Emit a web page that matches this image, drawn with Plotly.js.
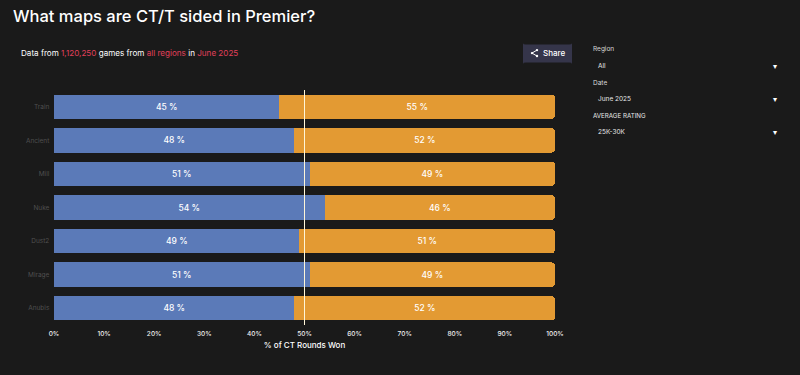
<!DOCTYPE html>
<html>
<head>
<meta charset="utf-8">
<script src="https://cdn.plot.ly/plotly-3.0.1.min.js"></script>
<style>html,body{margin:0;padding:0;background:#1a1a1a;overflow:hidden}</style>
</head>
<body>
<div id="chart" style="width:800px;height:375px"></div>
<script>
const maps = ["Train","Ancient","Mill","Nuke","Dust2","Mirage","Anubis"];
const ctShare = [45, 48, 51, 54, 49, 51, 48];
const tShare = [55, 52, 49, 46, 51, 49, 52];
const tickValues = [0,10,20,30,40,50,60,70,80,90,100];
const tickLabels = ["0%","10%","20%","30%","40%","50%","60%","70%","80%","90%","100%"];
const FONT = "Inter, 'Open Sans', sans-serif";
const label = (text, x, y, size, color, anchor, weight) => ({
  text, x, y, xref:"paper", yref:"paper", xanchor:anchor||"left", yanchor:"middle",
  showarrow:false, font:{family:FONT,size,color,weight:weight||400}, borderpad:0
});
const L=54,R=245,T=89.5,B=50,W=800,H=375;
const px = x => (x-L)/(W-L-R);
const py = y => 1-(y-T)/(H-T-B);
const rounded = (x0,y0,x1,y1,r) => `M${x0+r},${y0} L${x1-r},${y0} Q${x1},${y0} ${x1},${y0+r} L${x1},${y1-r} Q${x1},${y1} ${x1-r},${y1} L${x0+r},${y1} Q${x0},${y1} ${x0},${y1-r} L${x0},${y0+r} Q${x0},${y0} ${x0+r},${y0} Z`;

const traces = [
 {type:"bar",orientation:"h",y:maps,x:ctShare,name:"CT",marker:{color:"#5b7ab8"},
  text:ctShare.map(v=>v+" %"),textposition:"inside",insidetextanchor:"middle",
  textfont:{family:FONT,size:8.5,color:"#ffffff",weight:500},hoverinfo:"skip"},
 {type:"bar",orientation:"h",y:maps,x:tShare,name:"T",marker:{color:"#e39a33"},
  text:tShare.map(v=>v+" %"),textposition:"inside",insidetextanchor:"middle",
  textfont:{family:FONT,size:8.5,color:"#ffffff",weight:500},hoverinfo:"skip"}
];
const layout = {
  width:W,height:H,paper_bgcolor:"#1a1a1a",plot_bgcolor:"#1a1a1a",
  margin:{l:L,r:R,t:T,b:B,pad:0},showlegend:false,barmode:"stack",bargap:0.27,barcornerradius:4,
  font:{family:FONT,color:"#ffffff"},
  xaxis:{range:[0,100],tickvals:tickValues,ticktext:tickLabels,showgrid:false,zeroline:false,showline:false,
    ticks:"",ticklabelstandoff:3,tickfont:{family:FONT,size:6.5,color:"#f0f0f0",weight:500},fixedrange:true,
    title:{text:"% of CT Rounds Won",font:{family:FONT,size:8,color:"#ffffff",weight:500},standoff:5}},
  yaxis:{categoryorder:"array",categoryarray:maps.slice().reverse(),showgrid:false,zeroline:false,showline:false,
    ticks:"",ticksuffix:"  ",tickfont:{family:FONT,size:6.5,color:"#4f4f4f"},fixedrange:true},
  shapes:[
    {type:"line",xref:"x",yref:"paper",x0:50,x1:50,y0:0,y1:1,line:{color:"#fff6d8",width:1}},
    {type:"path",xref:"paper",yref:"paper",path:rounded(px(523),py(44),px(572),py(62),0.006),fillcolor:"#35354a",line:{width:0}},
    {type:"path",xref:"paper",yref:"paper",path:`M${px(537)},${py(49.5)} L${px(532)},${py(52.5)} L${px(537)},${py(55.5)}`,line:{color:"#ffffff",width:1}},
    {type:"circle",xref:"paper",yref:"paper",x0:px(530.8),x1:px(533.2),y0:py(51.3),y1:py(53.7),fillcolor:"#ffffff",line:{width:0}},
    {type:"circle",xref:"paper",yref:"paper",x0:px(535.8),x1:px(538.2),y0:py(48.3),y1:py(50.7),fillcolor:"#ffffff",line:{width:0}},
    {type:"circle",xref:"paper",yref:"paper",x0:px(535.8),x1:px(538.2),y0:py(54.3),y1:py(56.7),fillcolor:"#ffffff",line:{width:0}}
  ],
  annotations:[
    label("What maps are CT/T sided in Premier?",px(12),py(15),16.5,"#ffffff","left",500),
    label('Data from <span style="color:#e0405a">1,120,250</span> games from <span style="color:#e0405a">all regions</span> in <span style="color:#e0405a">June 2025</span>',px(20),py(52.5),8.1,"#ffffff"),
    label("Share",px(553.5),py(52.5),8,"#ffffff","center",500),
    label("Region",px(592),py(48),6.5,"#d8d8d8"),
    label("All",px(597),py(65),6.5,"#e8e8e8"),
    label("▾",px(775),py(65),8,"#ffffff","center"),
    label("Date",px(592),py(82),6.5,"#d8d8d8"),
    label("June 2025",px(597),py(99),6.5,"#e8e8e8"),
    label("▾",px(775),py(99),8,"#ffffff","center"),
    label("AVERAGE RATING",px(592),py(115),6.2,"#e8e8e8"),
    label("25K-30K",px(597),py(132),6.5,"#e8e8e8"),
    label("▾",px(775),py(132),8,"#ffffff","center")
  ]
};
Plotly.newPlot("chart",traces,layout,{displayModeBar:false,responsive:false});
</script>
</body>
</html>
